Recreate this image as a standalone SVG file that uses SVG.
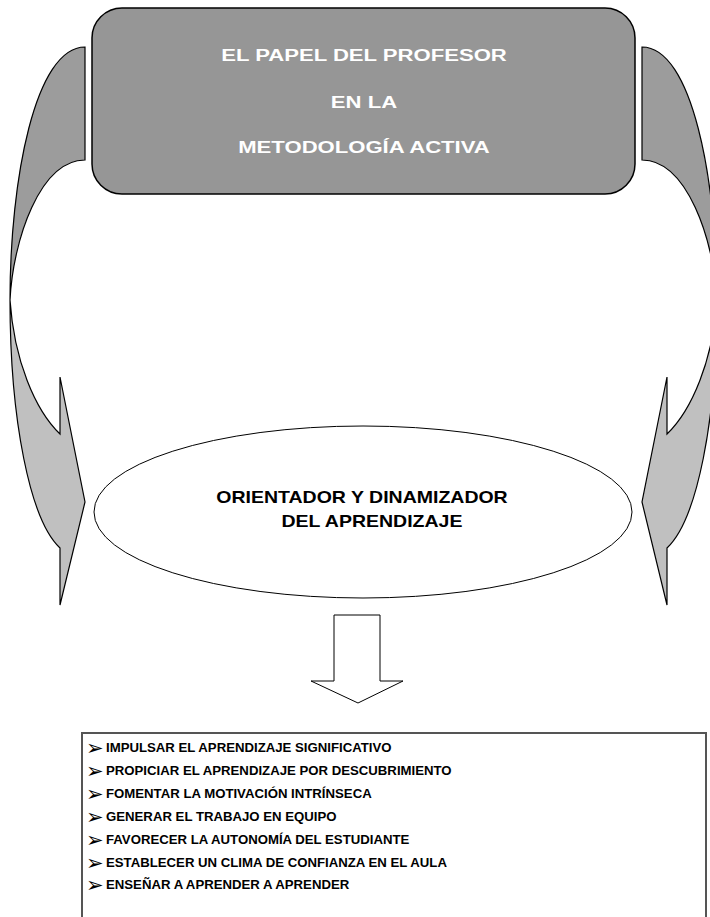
<svg xmlns="http://www.w3.org/2000/svg" width="710" height="917" viewBox="0 0 710 917">
<style>
.band{fill:#9c9c9c;stroke:#000;stroke-width:1.2;stroke-linejoin:miter}
.band2{fill:#c0c0c0;stroke:#000;stroke-width:1.2;stroke-linejoin:miter}
.t{font-family:"Liberation Sans",Arial,sans-serif;font-weight:bold}
.title{fill:#fff;font-size:17px;text-anchor:middle}
.ell{fill:#000;font-size:16px;text-anchor:middle}
.li{fill:#000;font-size:13.2px}
.bul{font-family:"DejaVu Sans",sans-serif;font-size:21px;fill:#000}
</style>
<rect width="710" height="917" fill="#fff"/>
<g id="connectors">
  <g id="left-arrow">
    <path class="band" d="M85,47 C35,47 10,180 10,300 C13,240 40,160 85,160 Z"/>
    <path class="band2" d="M10,300 C10,420 30,520 60,548 L60,605 L85,502 L60,377 L60,434 C35,410 14,360 10,300 Z"/>
  </g>
  <g id="right-arrow">
    <path class="band" d="M642,47 C692,47 717,180 717,300 C714,240 687,160 642,160 Z"/>
    <path class="band2" d="M717,300 C717,420 697,520 667,548 L667,605 L642,502 L667,377 L667,434 C692,410 713,360 717,300 Z"/>
  </g>
  <path id="down-arrow" d="M334,615 H380 V681 H403 L358,703 L311,681 H334 Z" fill="#fff" stroke="#000" stroke-width="1"/>
</g>
<g id="node-title">
  <rect x="92" y="8" width="543" height="186" rx="30" ry="30" fill="#969696" stroke="#000" stroke-width="1.5"/>
  <g class="t title">
    <text transform="translate(364,61) scale(1.3,1)">EL PAPEL DEL PROFESOR</text>
    <text transform="translate(364,108) scale(1.3,1)">EN LA</text>
    <text transform="translate(364,153) scale(1.3,1)">METODOLOGÍA ACTIVA</text>
  </g>
</g>
<g id="node-orientador">
  <ellipse cx="363" cy="512" rx="269" ry="86" fill="#fff" stroke="#000" stroke-width="1"/>
  <g class="t ell">
    <text transform="translate(362,503) scale(1.22,1)">ORIENTADOR Y DINAMIZADOR</text>
    <text transform="translate(372,527) scale(1.22,1)">DEL APRENDIZAJE</text>
  </g>
</g>
<g id="node-list">
  <path d="M82,920 V733 H706 V920" fill="none" stroke="#555" stroke-width="2"/>
  <g class="bul">
    <text x="86" y="755">➢</text>
    <text x="86" y="778">➢</text>
    <text x="86" y="801">➢</text>
    <text x="86" y="824">➢</text>
    <text x="86" y="847">➢</text>
    <text x="86" y="870">➢</text>
    <text x="86" y="892">➢</text>
  </g>
  <g class="t li">
    <text x="106" y="752">IMPULSAR EL APRENDIZAJE SIGNIFICATIVO</text>
    <text x="106" y="775">PROPICIAR EL APRENDIZAJE POR DESCUBRIMIENTO</text>
    <text x="106" y="798">FOMENTAR LA MOTIVACIÓN INTRÍNSECA</text>
    <text x="106" y="821">GENERAR EL TRABAJO EN EQUIPO</text>
    <text x="106" y="844">FAVORECER LA AUTONOMÍA DEL ESTUDIANTE</text>
    <text x="106" y="867">ESTABLECER UN CLIMA DE CONFIANZA EN EL AULA</text>
    <text x="106" y="889">ENSEÑAR A APRENDER A APRENDER</text>
  </g>
</g>
</svg>
